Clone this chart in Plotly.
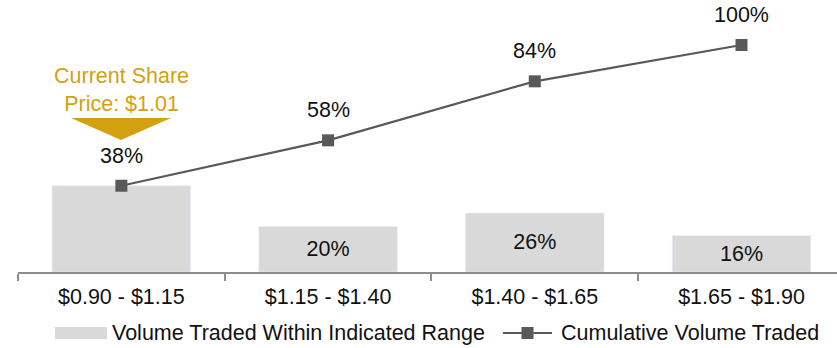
import plotly.graph_objects as go

categories = ["$0.90 - $1.15", "$1.15 - $1.40", "$1.40 - $1.65", "$1.65 - $1.90"]
volume_pct = [38, 20, 26, 16]
cumulative_pct = [38, 58, 84, 100]
bar_labels = ["", "20%", "26%", "16%"]
line_labels = ["38%", "58%", "84%", "100%"]
bar_name = "Volume Traded Within Indicated Range"
line_name = "Cumulative Volume Traded"
price_note = "Current Share<br>Price: $1.01"

FONT = "Liberation Sans, Arial, sans-serif"
FS = 21.5
GOLD = "#D4A00F"
BAR = "#D9D9D9"
LINE = "#595959"
TXT = "#111111"

W, H = 837, 348
ML, MR, MT, MB = 18, 0, 10, 76
PW = W - ML - MR
PH = H - MT - MB


def px(x):
    return (x - ML) / PW


def py(y):
    return (H - MB - y) / PH


fig = go.Figure()
fig.add_trace(go.Bar(
    x=categories, y=volume_pct, name=bar_name, marker_color=BAR,
    text=bar_labels, textposition="inside", insidetextanchor="middle",
    textangle=0, textfont=dict(size=FS, color=TXT, family=FONT),
    constraintext="none", showlegend=False,
))
fig.add_trace(go.Scatter(
    x=categories, y=cumulative_pct, name=line_name, mode="lines+markers",
    line=dict(color=LINE, width=2.2),
    marker=dict(symbol="square", size=12, color=LINE),
    showlegend=False,
))

# labels above line markers
for c, v, t in zip(categories, cumulative_pct, line_labels):
    fig.add_annotation(x=c, y=v, text=t, showarrow=False, yshift=30,
                       font=dict(size=FS, color=TXT, family=FONT))

# current price marker (triangle) + note
fig.add_shape(type="path", xref="x", yref="y",
              path="M -0.243 67.8 L 0.24 67.8 L -0.002 58.1 Z",
              fillcolor=GOLD, line=dict(width=0))
fig.add_annotation(x=categories[0], y=67.8, text=price_note, showarrow=False,
                   yanchor="bottom", yshift=0,
                   font=dict(size=FS, color=GOLD, family=FONT))

# manual legend
fig.add_shape(type="rect", xref="paper", yref="paper",
              x0=px(55), x1=px(107), y0=py(339), y1=py(327),
              fillcolor=BAR, line=dict(width=0))
fig.add_annotation(xref="paper", yref="paper", x=px(110), y=py(333),
                   text=bar_name, showarrow=False, xanchor="left", yanchor="middle",
                   font=dict(size=FS, color=TXT, family=FONT))
fig.add_shape(type="line", xref="paper", yref="paper",
              x0=px(503), x1=px(552), y0=py(333), y1=py(333),
              line=dict(color=LINE, width=2.2))
fig.add_shape(type="rect", xref="paper", yref="paper",
              x0=px(521.5), x1=px(533.5), y0=py(339), y1=py(327),
              fillcolor=LINE, line=dict(width=0))
fig.add_annotation(xref="paper", yref="paper", x=px(559), y=py(333),
                   text=line_name, showarrow=False, xanchor="left", yanchor="middle",
                   font=dict(size=FS, color=TXT, family=FONT))

fig.update_layout(
    width=W, height=H,
    margin=dict(l=ML, r=MR, t=MT, b=MB),
    paper_bgcolor="white", plot_bgcolor="white",
    bargap=0.33, showlegend=False,
    font=dict(family=FONT, size=FS, color=TXT),
)
fig.update_xaxes(
    range=[-0.5, 3.462], showline=True, linecolor="#8C8C8C", linewidth=2,
    ticks="outside", tickson="boundaries", ticklen=7, tickcolor="#8C8C8C",
    tickwidth=2, showgrid=False, tickfont=dict(size=FS, color=TXT, family=FONT),
    ticklabelstandoff=4, fixedrange=True,
)
fig.update_yaxes(range=[0, PH / 2.27], visible=False, showgrid=False, fixedrange=True)

fig.write_html("out.html")
